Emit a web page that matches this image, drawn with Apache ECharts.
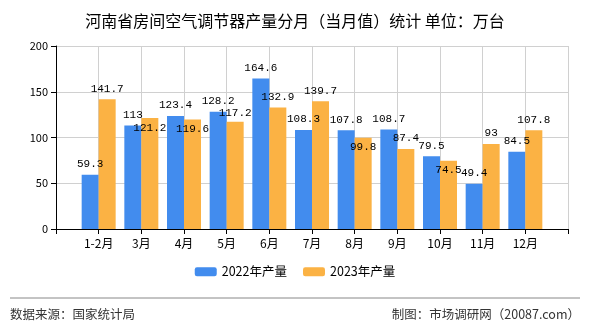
<!DOCTYPE html>
<html><head><meta charset="utf-8">
<script src="https://cdn.jsdelivr.net/npm/echarts@6/dist/echarts.min.js"></script>
<style>html,body{margin:0;padding:0;background:#fff}#c{width:590px;height:330px}</style>
</head><body><div id="c"></div>
<script>
const categories = ['1-2月','3月','4月','5月','6月','7月','8月','9月','10月','11月','12月'];
const values2022 = [59.3,113,123.4,128.2,164.6,108.3,107.8,108.7,79.5,49.4,84.5];
const values2023 = [141.7,121.2,119.6,117.2,132.9,139.7,99.8,87.4,74.5,93,107.8];
const yTicks = [0,50,100,150,200];

// label vertical nudges (px) for the 2023 series, to mimic the reference's overlap handling
const labelNudge2023 = [0,20,20,2,0,0,20,0,20,0,0];

const axisCats = [''].concat(categories, ['']);
const pad = arr => [null].concat(arr, [null]);
const FONT = 'Noto Sans CJK SC';

const chart = echarts.init(document.getElementById('c'), null, {renderer:'canvas'});
const labelStyle = {show:true, position:'top', distance:5, color:'#000', fontSize:11, fontFamily:'Liberation Mono'};
chart.setOption({
  animation:false,
  textStyle:{fontFamily:FONT},
  title:{text:'河南省房间空气调节器产量分月（当月值）统计 单位：万台', left:'center', top:8,
    textStyle:{fontSize:16, fontWeight:'normal', color:'#000', fontFamily:FONT}},
  grid:{left:56, right:22, top:46, bottom:101},
  legend:{bottom:47, left:'center', itemWidth:22, itemHeight:9, itemGap:16,
    textStyle:{fontSize:12.5, color:'#000', fontFamily:FONT},
    data:['2022年产量','2023年产量']},
  xAxis:{type:'category', data:axisCats, boundaryGap:false,
    axisLine:{lineStyle:{color:'#000'}},
    axisTick:{show:true, length:5, lineStyle:{color:'#000'}},
    axisLabel:{color:'#000', fontSize:12, margin:8, interval:0},
    splitLine:{show:true, lineStyle:{color:'#d0d0d0'}}},
  yAxis:{type:'value', min:yTicks[0], max:yTicks[yTicks.length-1], interval:50,
    axisLine:{show:true, lineStyle:{color:'#000'}},
    axisTick:{show:true, length:5, lineStyle:{color:'#000'}},
    axisLabel:{color:'#000', fontSize:11, margin:8},
    splitLine:{show:true, lineStyle:{color:'#d0d0d0'}}},
  series:[
    {name:'2022年产量', type:'bar', data:pad(values2022), barWidth:17, barGap:'0%',
      itemStyle:{color:'#428cee'}, label:labelStyle},
    {name:'2023年产量', type:'bar', data:pad(values2023), barWidth:17, barGap:'0%',
      itemStyle:{color:'#fbb244'}, label:labelStyle,
      labelLayout:function(p){ const n = labelNudge2023[p.dataIndex-1] || 0; return {dy:n}; }}
  ],
  graphic:[
    {type:'line', shape:{x1:10,y1:298,x2:580,y2:298}, style:{stroke:'#888', lineWidth:1}},
    {type:'text', left:10, top:308, style:{text:'数据来源：国家统计局', fontSize:12.5, fill:'#333', fontFamily:FONT}},
    {type:'text', right:10, top:308, style:{text:'制图：市场调研网（20087.com）', fontSize:12.5, fill:'#333', fontFamily:FONT}}
  ]
});
</script></body></html>
